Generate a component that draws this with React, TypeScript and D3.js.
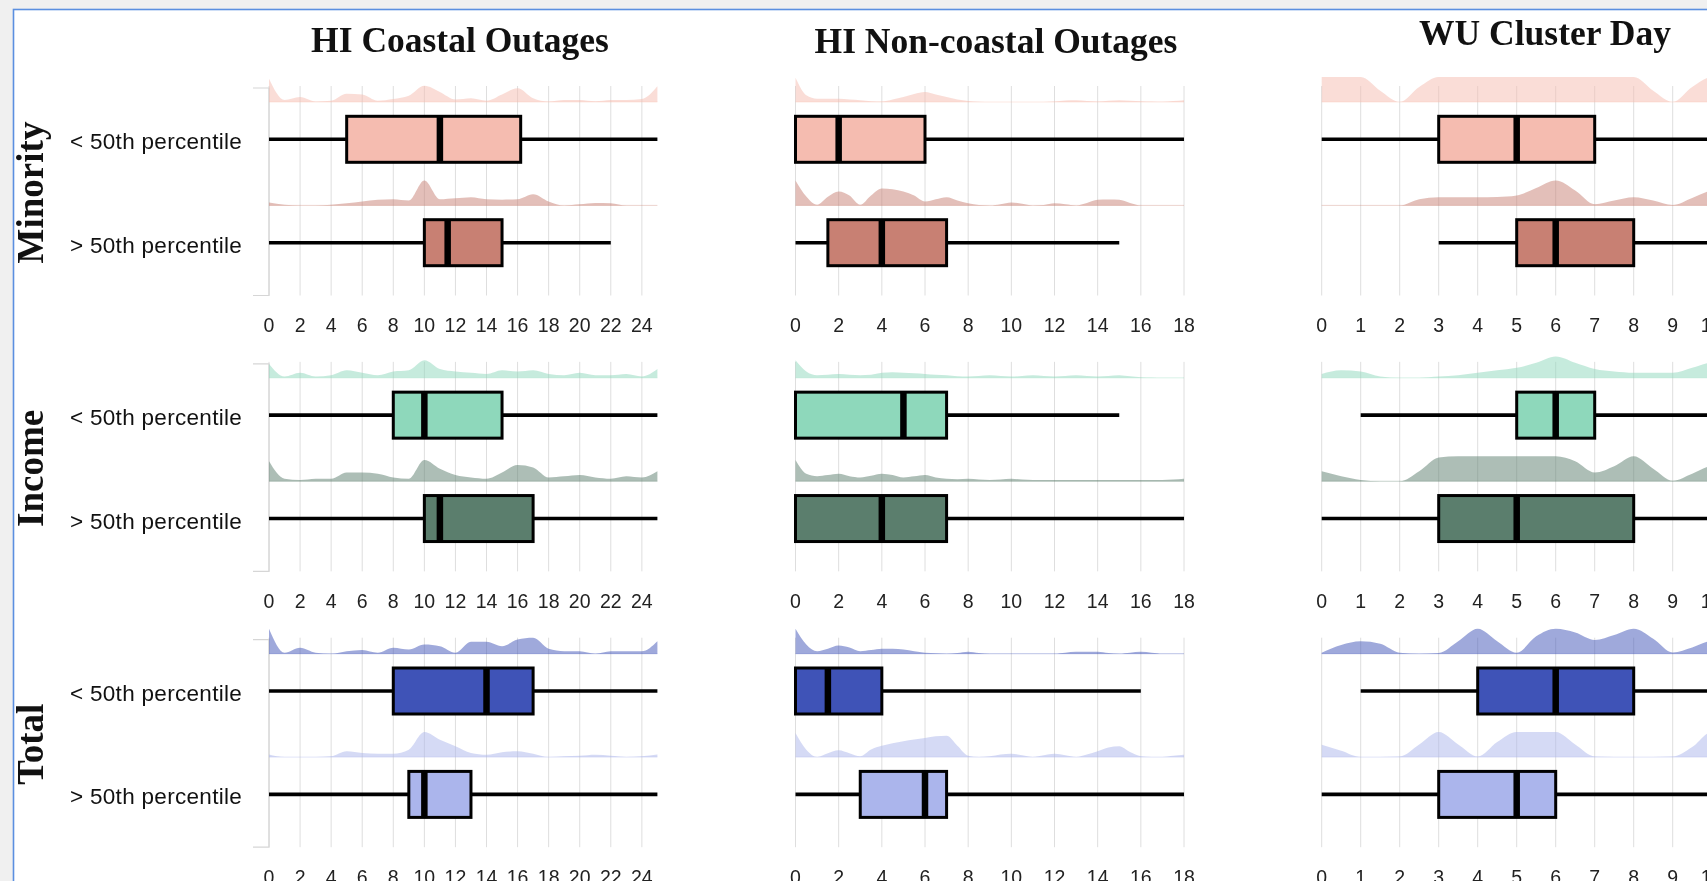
import React from "react";
import * as d3 from "d3";

// ---------- data ----------
const panels = ["HI Coastal Outages", "HI Non-coastal Outages", "WU Cluster Day"];
const categories = ["Minority", "Income", "Total"];
const groups = ["< 50th percentile", "> 50th percentile"];

const boxColors = [
  ["#f5bcb0", "#c88073"],
  ["#8ed8bb", "#5b7e6d"],
  ["#3f53b7", "#abb5ec"],
];

// x domains and tick values per panel
const domains: [number, number][] = [[0, 25], [0, 18], [0, 11.5]];
const tickValues = [
  [0, 2, 4, 6, 8, 10, 12, 14, 16, 18, 20, 22, 24],
  [0, 2, 4, 6, 8, 10, 12, 14, 16, 18],
  [0, 1, 2, 3, 4, 5, 6, 7, 8, 9, 10, 11],
];

// box stats [min, q1, median, q3, max] : panel -> category -> group
const coastalBoxes = [
  [[0, 5, 11, 16.2, 25], [0, 10, 11.5, 15, 22]],
  [[0, 8, 10, 15, 25], [0, 10, 11, 17, 25]],
  [[0, 8, 14, 17, 25], [0, 9, 10, 13, 25]],
];
const nonCoastalBoxes = [
  [[0, 0, 2, 6, 18], [0, 1.5, 4, 7, 15]],
  [[0, 0, 5, 7, 15], [0, 0, 4, 7, 18]],
  [[0, 0, 1.5, 4, 16], [0, 3, 6, 7, 18]],
];
const wuBoxes = [
  [[0, 3, 5, 7, 12], [3, 5, 6, 8, 12]],
  [[1, 5, 6, 7, 12], [0, 3, 5, 8, 12]],
  [[1, 4, 6, 8, 12], [0, 3, 5, 6, 12]],
];

// density sample grids
const coastalGrid = d3.range(0, 25.001, 1);
const nonCoastalGrid = d3.range(0, 18.001, 0.5);
const wuGrid = d3.range(0, 11.501, 0.5);

// relative density heights (1 = full band height)
const coastalMinorityLow = [0.93, 0.08, 0.2, 0.02, 0.05, 0.33, 0.3, 0.05, 0.12, 0.25, 0.65, 0.4, 0.1, 0.15, 0.05, 0.3, 0.55, 0.15, 0.02, 0.08, 0.08, 0.03, 0.08, 0.08, 0.12, 0.63];
const coastalMinorityHigh = [0.12, 0.03, 0, 0, 0.03, 0.09, 0.16, 0.23, 0.25, 0.2, 1.0, 0.25, 0.29, 0.33, 0.25, 0.23, 0.25, 0.45, 0.16, 0, 0.05, 0.1, 0.09, 0, 0, 0];
const coastalIncomeLow = [0.55, 0.05, 0.2, 0.05, 0.1, 0.3, 0.2, 0.1, 0.25, 0.3, 0.7, 0.35, 0.25, 0.2, 0.15, 0.3, 0.25, 0.3, 0.15, 0.1, 0.2, 0.1, 0.1, 0.15, 0.05, 0.35];
const coastalIncomeHigh = [0.8, 0.1, 0.05, 0.1, 0.1, 0.35, 0.35, 0.3, 0.15, 0.1, 0.85, 0.5, 0.25, 0.15, 0.1, 0.35, 0.65, 0.55, 0.15, 0.2, 0.25, 0.15, 0.1, 0.2, 0.15, 0.4];
const coastalTotalLow = [1.0, 0.04, 0.24, 0.04, 0, 0.1, 0.15, 0.04, 0.24, 0.17, 0.37, 0.3, 0.04, 0.48, 0.48, 0.3, 0.57, 0.64, 0.2, 0.1, 0.1, 0, 0.1, 0.1, 0.1, 0.5];
const coastalTotalHigh = [0.1, 0, 0, 0, 0.03, 0.23, 0.16, 0.13, 0.13, 0.29, 1.0, 0.69, 0.43, 0.16, 0.09, 0.19, 0.23, 0.13, 0, 0.03, 0.05, 0.09, 0.05, 0, 0.03, 0.1];

const nonCoastalMinorityLow = [0.97, 0.27, 0.13, 0.13, 0.13, 0.1, 0.07, 0.03, 0.02, 0.1, 0.2, 0.32, 0.4, 0.3, 0.2, 0.1, 0.04, 0.01, 0, 0, 0, 0, 0, 0, 0.02, 0.06, 0.07, 0.04, 0.02, 0.05, 0.07, 0.05, 0.03, 0.02, 0.01, 0.04, 0.07];
const nonCoastalMinorityHigh = [1.0, 0.36, 0.03, 0.35, 0.56, 0.4, 0.03, 0.4, 0.68, 0.65, 0.56, 0.4, 0.16, 0.25, 0.33, 0.2, 0.09, 0.02, 0, 0.05, 0.12, 0.07, 0, 0.02, 0.09, 0.05, 0, 0.1, 0.23, 0.24, 0.23, 0.1, 0, 0, 0, 0, 0];
const nonCoastalIncomeLow = [0.7, 0.25, 0.1, 0.12, 0.15, 0.12, 0.1, 0.12, 0.2, 0.22, 0.2, 0.18, 0.15, 0.12, 0.1, 0.06, 0.05, 0.07, 0.1, 0.07, 0.05, 0.07, 0.1, 0.07, 0.05, 0.07, 0.1, 0.07, 0.05, 0.07, 0.1, 0.06, 0.02, 0.01, 0, 0, 0];
const nonCoastalIncomeHigh = [0.85, 0.3, 0.2, 0.25, 0.3, 0.2, 0.15, 0.22, 0.3, 0.25, 0.15, 0.2, 0.25, 0.15, 0.1, 0.08, 0.1, 0.07, 0.05, 0.07, 0.1, 0.07, 0.05, 0.05, 0.05, 0.05, 0.05, 0.05, 0.05, 0.05, 0.05, 0.05, 0.05, 0.05, 0.05, 0.07, 0.1];
const nonCoastalTotalLow = [1.0, 0.37, 0.1, 0.2, 0.33, 0.25, 0.1, 0.15, 0.2, 0.2, 0.17, 0.1, 0.04, 0.02, 0, 0.03, 0.08, 0.03, 0, 0, 0, 0, 0, 0, 0, 0.04, 0.08, 0.08, 0.08, 0.03, 0, 0.04, 0.08, 0.04, 0, 0, 0];
const nonCoastalTotalHigh = [0.96, 0.29, 0, 0.15, 0.27, 0.15, 0.03, 0.3, 0.45, 0.55, 0.63, 0.7, 0.76, 0.83, 0.85, 0.45, 0.05, 0, 0.03, 0.1, 0.13, 0.07, 0, 0.07, 0.13, 0.07, 0, 0.1, 0.23, 0.38, 0.43, 0.2, 0.03, 0, 0, 0.05, 0.09];

const wuMinorityLow = [1.2, 1.2, 1.05, 0.45, 0, 0.6, 1.2, 1.3, 1.3, 1.3, 1.3, 1.3, 1.3, 1.3, 1.3, 1.3, 1.05, 0.45, 0, 0.6, 1.2, 1.2, 1.2, 1.2];
const wuMinorityHigh = [0, 0, 0, 0, 0, 0.25, 0.33, 0.33, 0.33, 0.34, 0.4, 0.7, 1.0, 0.6, 0.05, 0.2, 0.33, 0.2, 0.02, 0.3, 0.6, 0.7, 0.7, 0.7];
const wuIncomeLow = [0.15, 0.3, 0.25, 0.05, 0, 0, 0.05, 0.1, 0.2, 0.3, 0.4, 0.6, 0.85, 0.6, 0.35, 0.25, 0.2, 0.2, 0.2, 0.4, 0.6, 0.6, 0.6, 0.6];
const wuIncomeHigh = [0.4, 0.2, 0.05, 0, 0, 0.4, 0.95, 1.0, 1.0, 1.0, 1.0, 1.0, 1.0, 0.8, 0.35, 0.6, 1.0, 0.5, 0.02, 0.3, 0.6, 0.6, 0.6, 0.6];
const wuTotalLow = [0.04, 0.35, 0.5, 0.4, 0.04, 0, 0.03, 0.5, 1.0, 0.5, 0.04, 0.7, 1.0, 0.85, 0.55, 0.75, 1.0, 0.6, 0.05, 0.25, 0.5, 0.5, 0.5, 0.5];
const wuTotalHigh = [0.49, 0.25, 0, 0, 0.02, 0.5, 1.0, 0.5, 0.02, 0.6, 1.05, 1.05, 1.05, 0.5, 0.02, 0, 0, 0, 0.02, 0.4, 1.0, 1.0, 1.0, 1.0];

const panelBoxes = [coastalBoxes, nonCoastalBoxes, wuBoxes];
const panelGrids = [coastalGrid, nonCoastalGrid, wuGrid];
const panelDensities = [
  [[coastalMinorityLow, coastalMinorityHigh], [coastalIncomeLow, coastalIncomeHigh], [coastalTotalLow, coastalTotalHigh]],
  [[nonCoastalMinorityLow, nonCoastalMinorityHigh], [nonCoastalIncomeLow, nonCoastalIncomeHigh], [nonCoastalTotalLow, nonCoastalTotalHigh]],
  [[wuMinorityLow, wuMinorityHigh], [wuIncomeLow, wuIncomeHigh], [wuTotalLow, wuTotalHigh]],
];

// ---------- layout ----------
const W = 1707;
const H = 881;
const ROW_STEP = 275.85;
const BOX_CENTERS = [139.3, 242.7];
const DENS_OFFSET = 37.3;
const DENS_H = 25;
const BOX_H = 46;
const GRID_TOP = 86;
const GRID_BOTTOM = 295.5;
const TICK_BASE = 332;
const ranges: [number, number][] = [[269, 657.4], [795.5, 1184], [1321.7, 1770.2]];
const titlePos = [[460, 52.3], [996, 53.3], [1545, 45]];

const serif = "'Liberation Serif', 'Times New Roman', serif";
const sans = "'Liberation Sans', Arial, Helvetica, sans-serif";

function Panel({ p }: { p: number }) {
  const x = d3.scaleLinear().domain(domains[p]).range(ranges[p]);
  const grid = panelGrids[p];
  return (
    <g>
      <text x={titlePos[p][0]} y={titlePos[p][1]} textAnchor="middle" fontFamily={serif} fontWeight="bold" fontSize={35.5} fill="#111">
        {panels[p]}
      </text>
      {categories.map((c, r) => {
        const oy = r * ROW_STEP;
        return (
          <g key={c}>
            {tickValues[p].map((t) => (
              <line key={t} x1={x(t)} x2={x(t)} y1={GRID_TOP + oy} y2={GRID_BOTTOM + oy} stroke="#dedede" strokeWidth={1} />
            ))}
            {p === 0 && (
              <path
                d={`M${x(0) - 16},${GRID_TOP + 2 + oy}H${x(0)}V${GRID_BOTTOM + oy}H${x(0) - 16}`}
                fill="none"
                stroke="#d6d6d6"
                strokeWidth={1.2}
              />
            )}
            {groups.map((g, gi) => {
              const cy = BOX_CENTERS[gi] + oy;
              const base = cy - DENS_OFFSET;
              const vals = panelDensities[p][r][gi];
              const pts = grid.map((gx, i) => [gx, vals[i]] as [number, number]);
              const area = d3
                .area<[number, number]>()
                .x((d) => x(d[0]))
                .y0(base)
                .y1((d) => base - Math.min(d[1], 1) * DENS_H)
                .curve(d3.curveMonotoneX);
              const [mn, q1, md, q3, mx] = panelBoxes[p][r][gi];
              const color = boxColors[r][gi];
              return (
                <g key={g}>
                  <path d={area(pts) || ""} fill={color} fillOpacity={0.5} />
                  <line x1={x(domains[p][0])} x2={x(domains[p][1])} y1={base} y2={base} stroke={color} strokeOpacity={0.35} strokeWidth={1} />
                  <line x1={x(mn)} x2={x(mx)} y1={cy} y2={cy} stroke="#000" strokeWidth={3.6} />
                  <rect x={x(q1)} y={cy - BOX_H / 2} width={x(q3) - x(q1)} height={BOX_H} fill={color} stroke="#000" strokeWidth={3} />
                  <line x1={x(md)} x2={x(md)} y1={cy - BOX_H / 2} y2={cy + BOX_H / 2} stroke="#000" strokeWidth={6.5} />
                </g>
              );
            })}
            {tickValues[p].map((t) => (
              <text key={"l" + t} x={x(t)} y={TICK_BASE + oy} textAnchor="middle" fontFamily={sans} fontSize={19.5} fill="#222">
                {t}
              </text>
            ))}
          </g>
        );
      })}
    </g>
  );
}

export default function App() {
  return (
    <div style={{ position: "fixed", left: 0, top: 0, width: W, height: H, overflow: "hidden" }}>
      <svg width={W} height={H} style={{ display: "block" }}>
        <rect x={0} y={0} width={W} height={H} fill="#f0f0f0" />
        <rect x={13.5} y={9.5} width={W + 20} height={H + 20} fill="#fff" stroke="#5b8fe0" strokeWidth={1.6} />
        {categories.map((c, r) => (
          <g key={c}>
            <text
              transform={`translate(43,${192.5 + r * ROW_STEP}) rotate(-90)`}
              textAnchor="middle"
              fontFamily={serif}
              fontWeight="bold"
              fontSize={37}
              fill="#111"
            >
              {c}
            </text>
            {groups.map((g, gi) => (
              <text key={g} x={70} y={BOX_CENTERS[gi] + 10 + r * ROW_STEP} fontFamily={sans} fontSize={22.5} letterSpacing={0.3} fill="#111">
                {g}
              </text>
            ))}
          </g>
        ))}
        {panels.map((_, p) => (
          <Panel key={p} p={p} />
        ))}
      </svg>
    </div>
  );
}
